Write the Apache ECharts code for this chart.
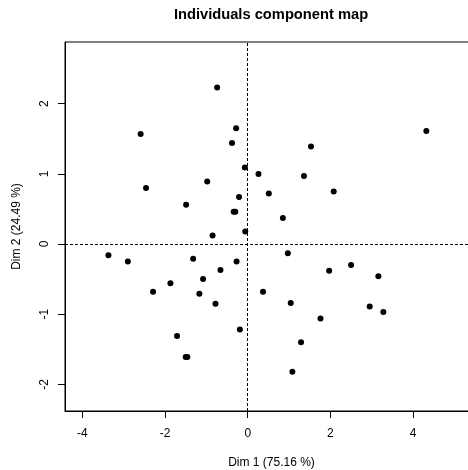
<!DOCTYPE html>
<html>
<head>
<meta charset="utf-8">
<script src="https://cdn.jsdelivr.net/npm/echarts@6/dist/echarts.min.js"></script>
<style>
  html, body { margin: 0; padding: 0; background: #fff; }
  #chart { width: 468px; height: 470px; }
</style>
</head>
<body>
<div id="chart"></div>
<script>
// individual coordinates
var dim1 = [-0.74, -2.59, -0.28, -0.38, -0.07, 0.26, -2.46, -0.98, -0.21, -1.49, -0.34, -0.30,
            4.32, 1.53, 1.36, 0.51, 2.08, 0.85,
            -0.85, -0.06, -3.37, -2.90, -1.32, -0.27, -0.66, -1.08, -1.87, -2.29, -1.17, -0.78, -0.19, -1.71, -1.50, -1.46,
            0.97, 1.97, 2.50, 3.16, 0.37, 1.04, 2.95, 3.28, 1.76, 1.29, 1.08];
var dim2 = [2.23, 1.57, 1.65, 1.44, 1.09, 1.00, 0.80, 0.89, 0.67, 0.56, 0.46, 0.46,
            1.61, 1.39, 0.97, 0.72, 0.75, 0.37,
            0.12, 0.18, -0.16, -0.25, -0.21, -0.25, -0.37, -0.50, -0.56, -0.68, -0.71, -0.85, -1.22, -1.31, -1.61, -1.61,
            -0.13, -0.38, -0.30, -0.46, -0.68, -0.84, -0.89, -0.97, -1.06, -1.40, -1.82];
var xTicks = [-4, -2, 0, 2, 4];
var yTicks = [-2, -1, 0, 1, 2];

var pts = dim1.map(function (x, i) { return [x, dim2[i]]; });

var myChart = echarts.init(document.getElementById('chart'));
var font = 'Liberation Sans, Arial, sans-serif';

// the plot box runs a little past the right edge of the picture
myChart.setOption({
    animation: false,
    title: {
        text: 'Individuals component map',
        left: 266, top: 2, textAlign: 'center',
        textStyle: { fontFamily: font, fontSize: 14.7, fontWeight: 'bold', color: '#000' }
    },
    grid: {
        left: 65, right: -10, top: 42, bottom: 59,
        outerBoundsMode: 'none',
        show: true, borderColor: '#000', borderWidth: 1
    },
    xAxis: {
        type: 'value', min: -4.42, max: 5.57,
        name: 'Dim 1 (75.16 %)', nameLocation: 'middle', nameGap: 46,
        nameTextStyle: { fontFamily: font, fontSize: 12, color: '#000' },
        axisLine: { show: true, onZero: false, lineStyle: { color: '#000' } },
        axisTick: { show: true, length: 7, customValues: xTicks, lineStyle: { color: '#000' } },
        axisLabel: { customValues: xTicks, margin: 17, fontFamily: font, fontSize: 12, color: '#000' },
        splitLine: { show: false }
    },
    yAxis: {
        type: 'value', min: -2.38, max: 2.88,
        name: 'Dim 2 (24.49 %)', nameLocation: 'middle', nameGap: 42,
        nameTextStyle: { fontFamily: font, fontSize: 12, color: '#000' },
        axisLine: { show: true, onZero: false, lineStyle: { color: '#000' } },
        axisTick: { show: true, length: 7, customValues: yTicks, lineStyle: { color: '#000' } },
        axisLabel: { customValues: yTicks, rotate: 90, margin: 14, fontFamily: font, fontSize: 12, color: '#000' },
        splitLine: { show: false }
    },
    series: [{
        type: 'scatter',
        data: pts,
        symbol: 'circle',
        symbolSize: 6,
        itemStyle: { color: '#000', opacity: 1 },
        markLine: {
            silent: true,
            symbol: ['none', 'none'],
            label: { show: false },
            lineStyle: { color: '#000', type: [3, 2], width: 1 },
            data: [{ xAxis: 0 }, { yAxis: 0 }]
        }
    }]
});
</script>
</body>
</html>
